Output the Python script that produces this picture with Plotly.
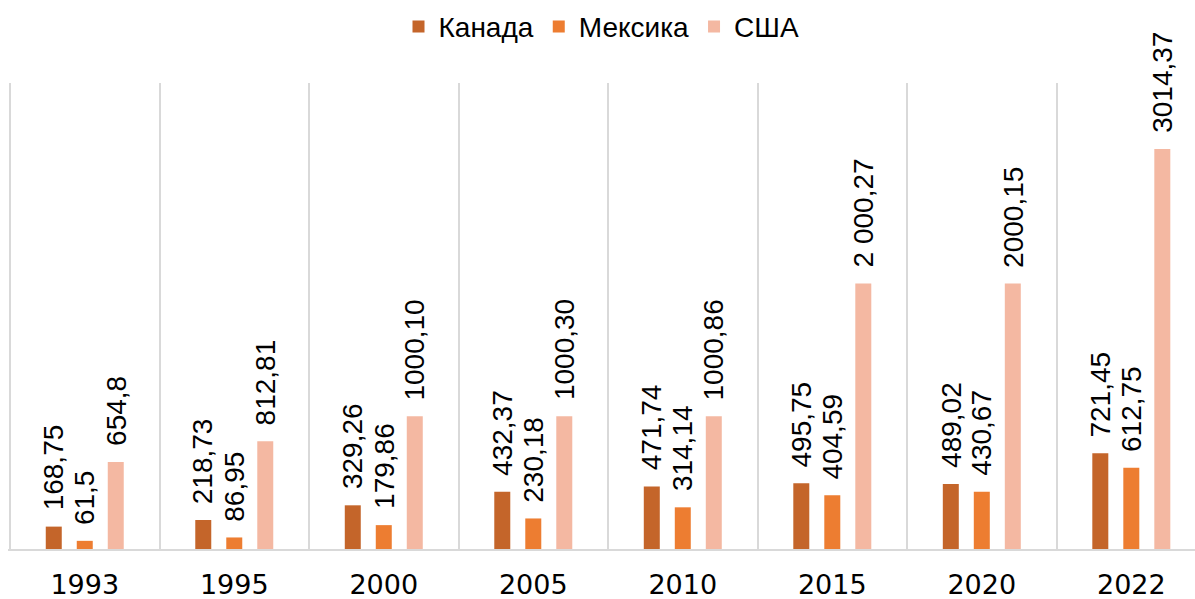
import plotly.graph_objects as go

years = ["1993", "1995", "2000", "2005", "2010", "2015", "2020", "2022"]
series_names = ["Канада", "Мексика", "США"]
canada = [168.75, 218.73, 329.26, 432.37, 471.74, 495.75, 489.02, 721.45]
mexico = [61.5, 86.95, 179.86, 230.18, 314.14, 404.59, 430.67, 612.75]
usa = [654.8, 812.81, 1000.10, 1000.30, 1000.86, 2000.27, 2000.15, 3014.37]
canada_labels = ["168,75", "218,73", "329,26", "432,37", "471,74", "495,75", "489,02", "721,45"]
mexico_labels = ["61,5", "86,95", "179,86", "230,18", "314,14", "404,59", "430,67", "612,75"]
usa_labels = ["654,8", "812,81", "1000,10", "1000,30", "1000,86", "2 000,27", "2000,15", "3014,37"]
colors = ["#C4652A", "#ED7D31", "#F4B8A2"]

W, H = 1195, 599
ml, mr, mt, mb = 8, 0, 83, 50
x_range = [-0.5134, 7.426]
y_range = [0, 3512]
bargap = 0.378
bargroupgap = 0.484

fig = go.Figure()
all_vals = [canada, mexico, usa]
all_labels = [canada_labels, mexico_labels, usa_labels]
for name, vals, col in zip(series_names, all_vals, colors):
    fig.add_trace(go.Bar(x=years, y=vals, name=name, marker=dict(color=col, line=dict(width=0))))

px_per_cat = (W - ml - mr) / (x_range[1] - x_range[0])
slot = px_per_cat * (1 - bargap) / 3
for k, (vals, labs) in enumerate(zip(all_vals, all_labels)):
    for i, (v, lab) in enumerate(zip(vals, labs)):
        fig.add_annotation(
            x=i, y=v, xref="x", yref="y", text=lab, showarrow=False,
            textangle=-90, xanchor="center", yanchor="bottom",
            xshift=round((k - 1) * slot, 1), yshift=14,
            font=dict(size=28, color="#000000"),
        )

fig.update_layout(
    width=W, height=H,
    margin=dict(l=ml, r=mr, t=mt, b=mb, autoexpand=False),
    paper_bgcolor="white", plot_bgcolor="white",
    barmode="group", bargap=bargap, bargroupgap=bargroupgap,
    font=dict(family="Liberation Sans, Arial, sans-serif", color="#000000"),
    showlegend=True,
    legend=dict(orientation="h", x=0.5, xanchor="center", y=0.997, yanchor="top",
                yref="container", font=dict(size=28), itemwidth=30,
                traceorder="normal"),
    xaxis=dict(type="category", range=x_range, tickson="boundaries", automargin=False,
               showgrid=True, gridcolor="#D9D9D9", gridwidth=2,
               showline=True, linecolor="#D9D9D9", linewidth=2,
               ticks="", ticklabelstandoff=11,
               tickfont=dict(family="DejaVu Sans, sans-serif", size=27, color="#000000")),
    yaxis=dict(range=y_range, showgrid=False, zeroline=False, showticklabels=False,
               showline=False, automargin=False),
)

fig.write_html("out.html", config={"displayModeBar": False},
               post_script="document.body.style.margin='0';")
